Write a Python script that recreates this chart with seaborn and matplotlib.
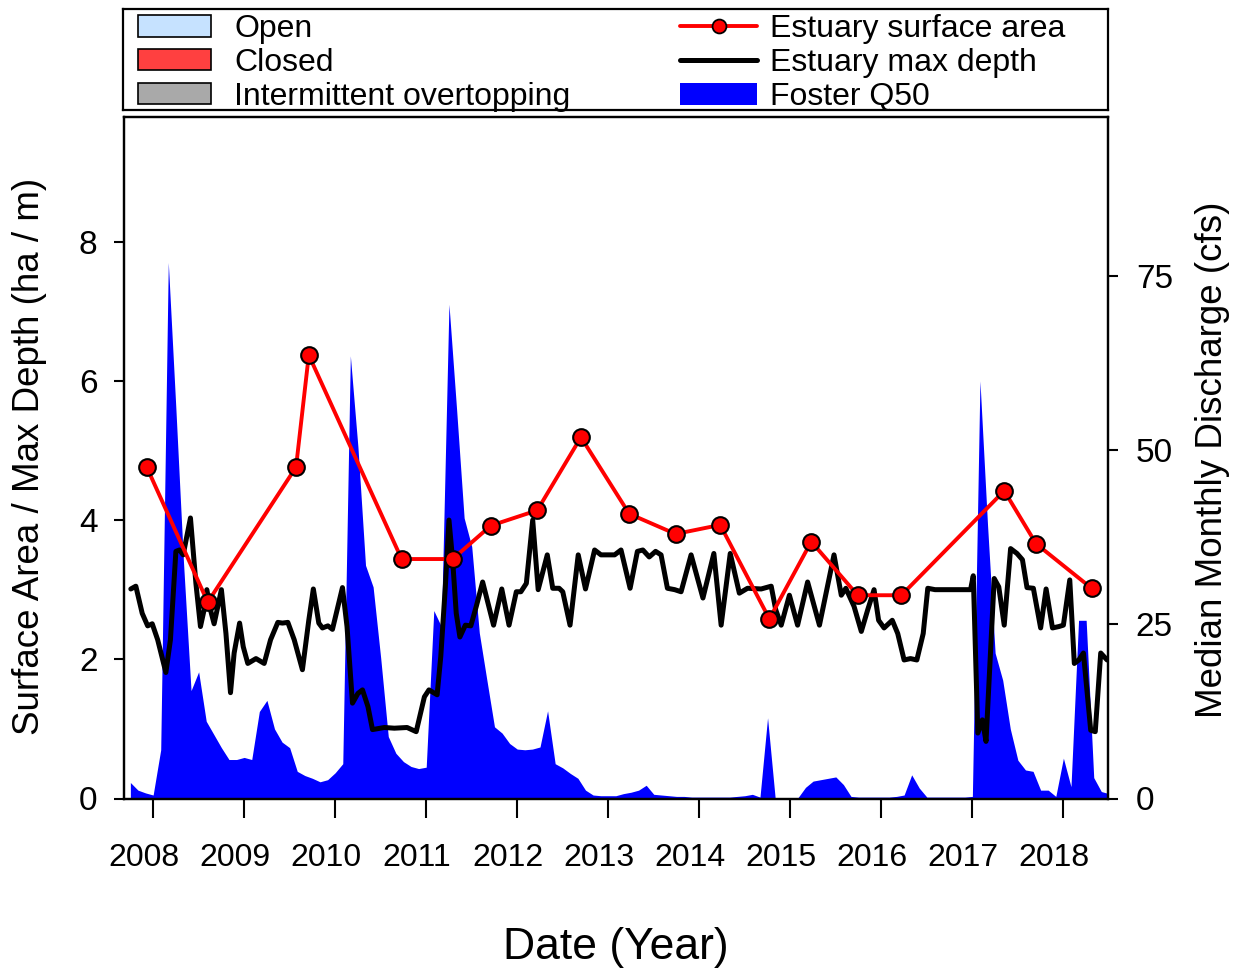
import numpy as np
import pandas as pd
import seaborn as sns
import matplotlib.pyplot as plt
from matplotlib.patches import Patch
from matplotlib.lines import Line2D
from matplotlib.transforms import ScaledTranslation

# surface area survey points (decimal year, ha)
area_year = [2007.93, 2008.60, 2009.57, 2009.71, 2010.73, 2011.29, 2011.71, 2012.22, 2012.70,
             2013.23, 2013.74, 2014.23, 2014.77, 2015.23, 2015.74, 2016.22, 2017.35, 2017.70, 2018.31]
area_val = [4.76, 2.82, 4.76, 6.37, 3.44, 3.44, 3.92, 4.14, 5.19,
            4.09, 3.80, 3.93, 2.58, 3.69, 2.92, 2.92, 4.42, 3.66, 3.02]

# max depth (decimal year, m)
depth_year = [2007.755, 2007.81, 2007.88, 2007.94, 2007.99, 2008.05, 2008.14, 2008.19, 2008.25, 2008.29,
              2008.33, 2008.41, 2008.47, 2008.52, 2008.56, 2008.59, 2008.63, 2008.67, 2008.75, 2008.80,
              2008.85, 2008.89, 2008.95, 2008.99, 2009.04, 2009.13, 2009.22, 2009.29, 2009.37, 2009.42,
              2009.48, 2009.55, 2009.64, 2009.71, 2009.76, 2009.82, 2009.86, 2009.92, 2009.97, 2010.03,
              2010.08, 2010.13, 2010.19, 2010.25, 2010.30, 2010.36, 2010.41, 2010.54, 2010.65, 2010.79,
              2010.89, 2010.98, 2011.03, 2011.12, 2011.16, 2011.21, 2011.25, 2011.29, 2011.33, 2011.37,
              2011.43, 2011.49, 2011.55, 2011.62, 2011.68, 2011.74, 2011.83, 2011.91, 2011.99, 2012.04,
              2012.10, 2012.17, 2012.23, 2012.33, 2012.39, 2012.46, 2012.50, 2012.58, 2012.67, 2012.75,
              2012.85, 2012.92, 2012.99, 2013.07, 2013.14, 2013.24, 2013.32, 2013.38, 2013.45, 2013.52,
              2013.58, 2013.65, 2013.73, 2013.80, 2013.91, 2014.04, 2014.16, 2014.24, 2014.34, 2014.44,
              2014.53, 2014.68, 2014.79, 2014.84, 2014.90, 2014.99, 2015.08, 2015.19, 2015.32, 2015.48,
              2015.56, 2015.61, 2015.70, 2015.78, 2015.85, 2015.92, 2015.97, 2016.03, 2016.12, 2016.18,
              2016.25, 2016.32, 2016.39, 2016.46, 2016.51, 2016.59, 2016.76, 2016.98, 2017.01, 2017.06,
              2017.11, 2017.15, 2017.20, 2017.24, 2017.29, 2017.35, 2017.42, 2017.49, 2017.55, 2017.60,
              2017.67, 2017.75, 2017.81, 2017.88, 2017.95, 2018.00, 2018.07, 2018.12, 2018.17, 2018.22,
              2018.30, 2018.35, 2018.41, 2018.48]
depth_val = [3.01, 3.05, 2.66, 2.48, 2.51, 2.28, 1.81, 2.28, 3.55, 3.57,
             3.50, 4.03, 3.09, 2.47, 2.71, 3.00, 2.71, 2.51, 3.00, 2.37,
             1.52, 2.09, 2.52, 2.18, 1.94, 2.01, 1.94, 2.28, 2.53, 2.52,
             2.53, 2.28, 1.85, 2.56, 3.01, 2.52, 2.45, 2.48, 2.43, 2.76,
             3.03, 2.47, 1.37, 1.51, 1.56, 1.32, 0.99, 1.02, 1.01, 1.02,
             0.96, 1.46, 1.56, 1.49, 2.04, 3.04, 4.00, 3.43, 2.66, 2.32,
             2.49, 2.48, 2.76, 3.11, 2.80, 2.49, 3.01, 2.49, 2.97, 2.97,
             3.09, 4.00, 3.00, 3.50, 3.02, 3.02, 2.97, 2.49, 3.50, 3.01,
             3.57, 3.50, 3.50, 3.50, 3.57, 3.02, 3.55, 3.57, 3.47, 3.55,
             3.50, 3.02, 3.00, 2.97, 3.50, 2.88, 3.52, 2.49, 3.52, 2.95,
             3.02, 3.01, 3.05, 2.71, 2.49, 2.92, 2.49, 3.11, 2.49, 3.50,
             2.92, 3.02, 2.76, 2.40, 2.71, 3.00, 2.56, 2.45, 2.56, 2.37,
             1.99, 2.01, 1.99, 2.37, 3.02, 3.00, 3.00, 3.00, 3.20, 0.94,
             1.13, 0.82, 2.13, 3.16, 3.04, 2.49, 3.59, 3.52, 3.43, 3.03,
             3.02, 2.45, 3.01, 2.45, 2.47, 2.49, 3.14, 1.94, 1.99, 2.09,
             0.98, 0.96, 2.09, 1.99]

# Foster median monthly discharge (cfs), monthly from Oct 2007
q50 = [2.3, 1.2, 0.8,
       0.5, 7.0, 77.0, 56.0, 34.0, 15.5, 18.2, 11.1, 9.2, 7.3, 5.6, 5.6,
       5.9, 5.6, 12.5, 14.1, 10.0, 8.1, 7.3, 3.9, 3.3, 2.9, 2.4, 2.7,
       3.7, 5.0, 63.6, 50.5, 33.5, 30.4, 20.2, 8.9, 6.5, 5.3, 4.6, 4.3,
       4.5, 27.0, 24.7, 71.0, 56.0, 40.3, 36.2, 23.8, 17.0, 10.3, 9.4, 7.9,
       7.1, 7.0, 7.1, 7.4, 12.6, 5.0, 4.4, 3.6, 2.9, 1.2, 0.5, 0.4,
       0.4, 0.4, 0.7, 0.9, 1.2, 1.9, 0.6, 0.5, 0.4, 0.3, 0.3, 0.2,
       0.2, 0.2, 0.2, 0.2, 0.2, 0.3, 0.4, 0.6, 0.2, 11.6, 0.1, 0.1,
       0.1, 0.1, 1.6, 2.5, 2.7, 2.9, 3.1, 2.0, 0.3, 0.2, 0.2, 0.2,
       0.2, 0.2, 0.3, 0.5, 3.4, 1.5, 0.2, 0.2, 0.2, 0.2, 0.2, 0.2,
       0.3, 60.0, 39.3, 20.9, 17.0, 10.0, 5.5, 4.1, 3.9, 1.2, 1.2, 0.3,
       5.8, 1.7, 25.6, 25.6, 3.0, 1.0, 0.7]
q50_months = pd.date_range("2007-10-01", periods=len(q50), freq="MS")
q50_year = q50_months.year + (q50_months.month - 1) / 12.0

years = list(range(2008, 2019))

sns.set_style("ticks")
plt.rcParams['font.family'] = ['Liberation Sans', 'DejaVu Sans']
plt.rcParams['text.color'] = 'black'
plt.rcParams['xtick.color'] = 'black'
plt.rcParams['ytick.color'] = 'black'

fig = plt.figure(figsize=(12.42, 9.77), dpi=100)
W, H = 1242, 977
ax = fig.add_axes([124 / W, 1 - 798.5 / H, (1108 - 124) / W, (798.5 - 117) / H])
ax2 = ax.twinx()

# discharge area behind the lines
ax2.fill_between(q50_year, 0, q50, color='#0000ff', linewidth=0)
ax2.set_ylim(0, 97.9)
ax2.set_yticks([0, 25, 50, 75])

sns.lineplot(x=depth_year, y=depth_val, ax=ax, color='black', linewidth=3.6,
             estimator=None, sort=False, solid_joinstyle='round')
sns.lineplot(x=area_year, y=area_val, ax=ax, color='#ff0000', linewidth=2.8,
             marker='o', markersize=12, markerfacecolor='#ff0000',
             markeredgecolor='black', markeredgewidth=1.5, estimator=None, sort=False)

ax.set_zorder(ax2.get_zorder() + 1)
ax.patch.set_visible(False)

ax.set_xlim(2007.68, 2018.49)
ax.set_ylim(0, 9.79)
ax.set_yticks([0, 2, 4, 6, 8])
ax.set_xticks(years)
ax.set_xticklabels([str(y) for y in years])
ax.set_xlabel("")
ax.set_ylabel("")

for a in (ax, ax2):
    for s in a.spines.values():
        s.set_linewidth(1.6)
        s.set_color('black')
        s.set_visible(True)

ax.tick_params(axis='x', direction='out', length=14, width=1.5, labelsize=23, pad=18,
               labelcolor='black')
ax.tick_params(axis='y', direction='out', length=7, width=1.5, labelsize=24, pad=12,
               labelcolor='black')
ax2.tick_params(axis='y', direction='out', length=7, width=1.5, labelsize=24, pad=13,
                labelcolor='black')

shift = ScaledTranslation(-9 / 100, 0, fig.dpi_scale_trans)
for lab in ax.get_xticklabels():
    lab.set_transform(lab.get_transform() + shift)

fig.text(30 / W, 1 - 456 / H, "Surface Area / Max Depth (ha / m)", rotation=90,
         ha='center', va='center', fontsize=26.5)
fig.text(1212 / W, 1 - 460 / H, "Median Monthly Discharge (cfs)", rotation=90,
         ha='center', va='center', fontsize=26.5)
fig.text(616 / W, 1 - 948 / H, "Date (Year)", ha='center', va='center', fontsize=32)

# legend box above the plot
lax = fig.add_axes([123 / W, 1 - 110 / H, (1108 - 123) / W, (110 - 9) / H])
lax.set_xticks([])
lax.set_yticks([])
for s in lax.spines.values():
    s.set_linewidth(1.6)
    s.set_color('black')

state_handles = [Patch(facecolor='#c6e2ff', edgecolor='black', linewidth=1.2),
                 Patch(facecolor='#ff4040', edgecolor='black', linewidth=1.2),
                 Patch(facecolor='#a9a9a9', edgecolor='black', linewidth=1.2)]
state_labels = ["Open", "Closed", "Intermittent overtopping"]
series_handles = [Line2D([], [], color='#ff0000', linewidth=2.8, marker='o', markersize=10,
                         markerfacecolor='#ff0000', markeredgecolor='black', markeredgewidth=1.3),
                  Line2D([], [], color='black', linewidth=3.6),
                  Patch(facecolor='#0000ff', edgecolor='none')]
series_labels = ["Estuary surface area", "Estuary max depth", "Foster Q50"]

leg1 = lax.legend(state_handles, state_labels, loc='upper left', bbox_to_anchor=(0.012, 0.98),
                  bbox_transform=lax.transAxes, frameon=False, fontsize=23, handlelength=2.3,
                  handleheight=0.65, handletextpad=0.72, labelspacing=0.12, borderaxespad=0,
                  borderpad=0.1, labelcolor='black')
lax.add_artist(leg1)
leg2 = lax.legend(series_handles, series_labels, loc='upper left',
                  bbox_to_anchor=((677 - 123) / (1108 - 123), 0.98),
                  bbox_transform=lax.transAxes, frameon=False, fontsize=23, handlelength=2.4,
                  handleheight=0.7, handletextpad=0.4, labelspacing=0.12, borderaxespad=0,
                  borderpad=0.1, labelcolor='black')

fig.savefig("out.png", dpi=100)
